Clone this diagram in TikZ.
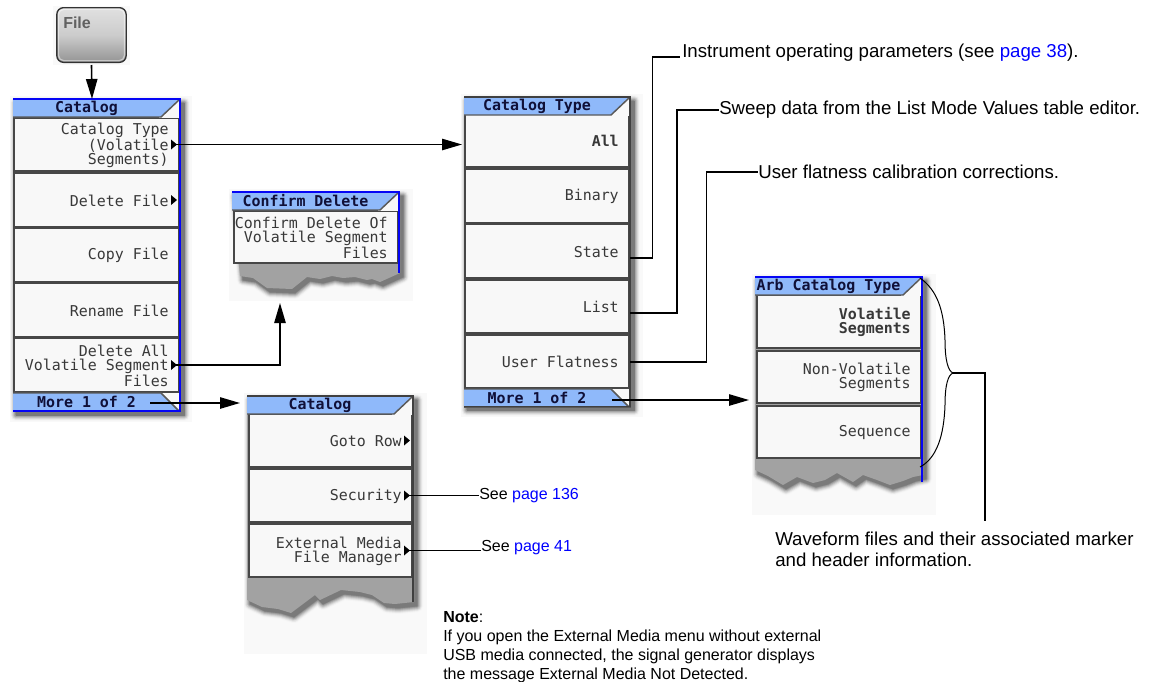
\documentclass[tikz,border=0pt]{standalone}
\usepackage{fontspec}
\setmainfont{Liberation Sans}
\setmonofont{DejaVu Sans Mono}
\usetikzlibrary{arrows.meta,calc,fit}
\definecolor{titleblue}{HTML}{8FB9FA}
\definecolor{edgeblue}{HTML}{0505F5}
\definecolor{linkblue}{HTML}{0000FF}
\definecolor{halo}{HTML}{F9F9F9}
\definecolor{btnfill}{HTML}{F8F8F8}
\definecolor{tornfill}{HTML}{A2A2A2}
\definecolor{menuink}{HTML}{383838}
\definecolor{titleink}{HTML}{101038}
\tikzset{
  x=0.75pt,y=-0.75pt,
  btnbox/.style={draw=black!72,line width=0.9pt,fill=btnfill,inner sep=0pt,outer sep=0pt},
  menulabel/.style={font=\fontsize{11.2}{10.5}\selectfont\ttfamily,text=menuink,align=right,inner sep=0pt,anchor=east},
  menutitle/.style={font=\fontsize{11.2}{10.5}\selectfont\ttfamily\bfseries,text=titleink,inner sep=0pt},
  conn/.style={draw=black,line width=1.2pt},
  arrowconn/.style={conn,-{Triangle[length=15pt,width=8.5pt]}},
  callout/.style={font=\fontsize{14}{15.75}\selectfont,inner sep=0pt,anchor=west,align=left},
  smallcall/.style={font=\fontsize{12}{14.25}\selectfont,inner sep=0pt,anchor=west,align=left},
}
\newcommand{\softshadow}[1]{\foreach \w/\c in {12/4,10/9,8/16,6/25,4/35,2/45,0.5/52}{%
  \path[shift={(3,4)},fill=black!\c,draw=black!\c,line width=\w*0.75pt,line join=round] #1;}}
% \menupanel{x0}{y0}{x1}{y1}{halo x1}{halo y1}
\newcommand{\menupanel}[6]{%
  \fill[halo] (#1-3,#2-3) rectangle (#5,#6);
  \softshadow{(#1,#2) rectangle (#3,#4)}
  \fill[tornfill!80!black] (#1,#2) rectangle (#3,#4);}
% \tornpanel{x0}{y0}{x1}{halo y1}{jag points}
\newcommand{\tornpanel}[5]{%
  \fill[halo] (#1-3,#2-3) rectangle (#3+13,#4);
  \softshadow{(#1,#2) -- (#3,#2) -- #5 -- cycle}
  \fill[tornfill] (#1,#2) -- (#3,#2) -- #5 -- cycle;}
% \menutop{name}{x0}{y0}{x1}{title}
\newcommand{\menutop}[5]{%
  \fill[btnfill] (#4-22,#3) rectangle (#4,#3+19);
  \fill[titleblue] (#2,#3) -- (#4-2,#3) -- (#4-20,#3+18) -- (#2,#3+18) -- cycle;
  \draw[black!65,line width=1.1pt] (#2,#3+18) -- (#4-20,#3+18) -- (#4-2,#3+1);
  \node[menutitle] (#1) at ({(#2+#4)/2-10.5},#3+9) {#5};}
% \menubot{name}{x0}{y0}{x1}{text}
\newcommand{\menubot}[5]{%
  \fill[btnfill] (#4-22,#3) rectangle (#4,#3+18);
  \fill[titleblue] (#2,#3) -- (#4-20,#3) -- (#4-2,#3+18) -- (#2,#3+18) -- cycle;
  \draw[black!65,line width=1.1pt] (#2,#3) -- (#4-20,#3) -- (#4-2,#3+18);
  \draw[black!65,line width=0.8pt] (#2,#3+18) -- (#4,#3+18);
  \node[menutitle] (#1) at ({(#2+#4)/2-10.5},#3+9) {#5};}
% \menubtn{name}{x0}{y0}{x1}{y1}{text}
\newcommand{\menubtn}[6]{%
  \node[btnbox,fit={(#2,#3)(#4,#5)}] (#1) {};
  \node[menulabel] (#1-text) at ($(#1.east)+(-10,0.8)$) {#6};}
\newcommand{\menutip}[1]{%
  \fill[black] ($(#1.east)+(-8,-5)$) -- ($(#1.east)+(-8,5)$) -- ($(#1.east)+(-2,0)$) -- cycle;
  \coordinate (#1-tip) at ($(#1.east)+(-4,0)$);}
\begin{document}
\begin{tikzpicture}
\useasboundingbox (0,0) rectangle (1150,682);
\fill[white] (0,0) rectangle (1150,682);

% ---------- File key
\fill[halo] (53,6) rectangle (130,65);
\node[draw=black!80,line width=1pt,rounded corners=5pt,minimum width=52pt,minimum height=41pt,inner sep=0pt,
      top color=black!12,bottom color=black!42,middle color=black!20] (filekey) at (91.5,35) {};
\node[draw=white,draw opacity=0.45,line width=0.9pt,rounded corners=4pt,minimum width=49.5pt,minimum height=38.5pt,inner sep=0pt] (filerim) at (filekey.center) {};
\node[font=\fontsize{12}{14}\selectfont\bfseries,text=black!62,inner sep=0pt,anchor=west] (filetext) at (63,23) {File};

% ---------- Catalog (first)
\menupanel{13}{99}{181}{411}{192}{422}
\menubtn{catType}{14}{118}{179}{171}{Catalog Type\\(Volatile\\Segments)}
\menubtn{delFile}{14}{173}{179}{227}{Delete File}
\menubtn{copyFile}{14}{228}{179}{282}{Copy File}
\menubtn{renFile}{14}{283}{179}{337}{Rename File}
\menubtn{delAll}{14}{338}{179}{392}{Delete All\\Volatile Segment\\Files}
\menutop{catTitle}{13}{99}{181}{Catalog}
\menubot{catMore}{13}{393}{181}{More 1 of 2}
\menutip{catType}\menutip{delFile}\menutip{delAll}
\draw[edgeblue,line width=1.1pt] (13,99) -- (181,99);
\draw[edgeblue,line width=1.5pt] (180,99) -- (180,411);
\draw[edgeblue,line width=0.9pt] (13,411) -- (181,411);

% ---------- Confirm Delete
\tornpanel{232}{192}{400}{301}{(400,273) -- (380,282) -- (372,279) -- (367,280) -- (355,277) -- (343,278) -- (332,276) -- (320,279) -- (307,277) -- (292,289) -- (267,288) -- (253,278) -- (240,276)}
\menubtn{confBtn}{234}{211}{398}{263}{Confirm Delete Of\\Volatile Segment\\Files}
\menutop{confTitle}{232}{192}{400}{Confirm Delete}
\draw[edgeblue,line width=1.1pt] (232,192) -- (400,192);
\draw[edgeblue,line width=1.5pt] (399,192) -- (399,273);

% ---------- Catalog (second)
\tornpanel{247}{396}{414}{654}{(414,602) -- (395,604) -- (384,603) -- (372,595) -- (360,592) -- (341,590) -- (320,600) -- (315,595) -- (291,613) -- (278,609) -- (262,607) -- (247,600)}
\menubtn{gotoRow}{249}{414}{412}{467}{Goto Row}
\menubtn{security}{249}{469}{412}{522}{Security}
\menubtn{extMedia}{249}{524}{412}{577}{External Media\\File Manager}
\menutop{cat2Title}{247}{396}{414}{Catalog}
\menutip{gotoRow}\menutip{security}\menutip{extMedia}
\draw[black!75,line width=1.1pt] (247,396) -- (414,396);
\draw[black!75,line width=1.1pt] (413,396) -- (413,602);

% ---------- Catalog Type
\menupanel{464}{97}{631}{406}{643}{417}
\menubtn{ctAll}{465}{114}{629}{167}{\bfseries All}
\menubtn{ctBinary}{465}{169}{629}{223}{Binary}
\menubtn{ctState}{465}{224}{629}{278}{State}
\menubtn{ctList}{465}{280}{629}{333}{List}
\menubtn{ctUser}{465}{335}{629}{388}{User Flatness}
\menutop{ctTitle}{464}{97}{631}{Catalog Type}
\menubot{ctMore}{464}{389}{631}{More 1 of 2}
\draw[black!75,line width=1.1pt] (464,97) -- (631,97);
\draw[black!75,line width=1.1pt] (630,97) -- (630,406);
\draw[black!75,line width=0.9pt] (464,406.5) -- (631,406.5);

% ---------- Arb Catalog Type
\tornpanel{755}{277}{923}{515}{(923,475) -- (913,477) -- (903,481) -- (890,485) -- (877,480) -- (863,475) -- (853,482) -- (837,473) -- (825,480) -- (813,483) -- (797,477) -- (783,485) -- (768,476) -- (755,470)}
\menubtn{arbVol}{757}{295}{921}{348}{\bfseries Volatile\\\bfseries Segments}
\menubtn{arbNon}{757}{351}{921}{403}{Non-Volatile\\Segments}
\menubtn{arbSeq}{757}{406}{921}{458}{Sequence}
\menutop{arbTitle}{755}{277}{923}{Arb Catalog Type}
\draw[edgeblue,line width=1.1pt] (755,277) -- (923,277);
\draw[edgeblue,line width=1.7pt] (922,277) -- (922,482);

% ---------- Texts
\node[callout] (noteInstr) at (682,53) {Instrument operating parameters (see \textcolor{linkblue}{page 38}).};
\node[callout] (noteSweep) at (719,110) {Sweep data from the List Mode Values table editor.};
\node[callout] (noteUser) at (758,172) {User flatness calibration corrections.};
\node[callout,anchor=north west] (noteWave) at (775,532) {Waveform files and their associated marker\\and header information.};
\node[smallcall] (seeSec) at (479,0 |- security-tip) {See \textcolor{linkblue}{page 136}};
\node[smallcall] (seeExt) at (481,548) {See \textcolor{linkblue}{page 41}};
\node[smallcall,anchor=north west] (noteExt) at (443,611) {\textbf{Note}:\\If you open the External Media menu without external\\USB media connected, the signal generator displays\\the message External Media Not Detected.};

% ---------- Connectors
\coordinate (catTop) at (92,99);
\coordinate (ctIn) at (462,0 |- catType-tip);
\coordinate (confIn) at (280,303);
\coordinate (cat2In) at (240,403);
\coordinate (arbIn) at (749,400);
\coordinate (moreStart) at (150,403);
\coordinate (ctMoreStart) at (612,400);
\coordinate (braceTip) at (953,373);
\coordinate (waveEnd) at (985,521);
\coordinate (stateOut) at (630,258);
\coordinate (listOut) at (630,313);
\coordinate (userOut) at (630,362);
\coordinate (stateBend) at (652.5,258);
\coordinate (listBend) at (677,313);
\coordinate (userBend) at (706.5,362);
\coordinate (instrEnd) at (680,57);

\draw[arrowconn] (filekey.south) ++(0,2) -- (catTop);
\draw[arrowconn] (catType-tip) -- (ctIn);
\draw[arrowconn] (delAll-tip) -| (confIn);
\draw[arrowconn] (moreStart) -- (cat2In);
\draw[arrowconn] (ctMoreStart) -- (arbIn);
\draw[conn] (security-tip) -- (seeSec.west);
\draw[conn] (extMedia-tip) -- (extMedia-tip -| seeExt.west);
\draw[conn] (stateOut) -- (stateBend) |- (instrEnd);
\draw[conn] (listOut) -- (listBend) |- (noteSweep.west);
\draw[conn] (userOut) -- (userBend) |- (noteUser.west);
\draw[line width=0.75pt] (920,278) .. controls (937,290) and (944,310) .. (945,340) .. controls (945,360) and (948,371) .. (braceTip);
\draw[line width=0.75pt] (braceTip) .. controls (948,375) and (945,385) .. (945,405) .. controls (944,435) and (937,458) .. (920,467);
\draw[conn] (braceTip) -| (waveEnd);
\end{tikzpicture}
\end{document}
